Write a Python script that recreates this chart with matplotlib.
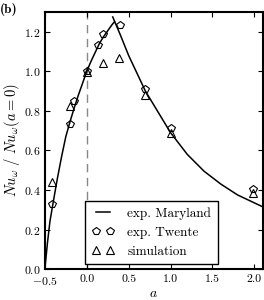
import matplotlib
matplotlib.use('Agg')
import matplotlib.pyplot as plt

# exp. Maryland fit (two branches)
md_left_a = [-0.5, -0.47, -0.44, -0.4, -0.35, -0.3, -0.25, -0.2, -0.15, -0.1,
             -0.05, 0.0, 0.05, 0.1, 0.15, 0.2, 0.25, 0.3, 0.33]
md_left_nu = [0.0, 0.13, 0.24, 0.34, 0.46, 0.57, 0.67, 0.745, 0.815, 0.88,
              0.94, 1.0, 1.05, 1.095, 1.14, 1.175, 1.205, 1.235, 1.25]
md_right_a = [0.31, 0.4, 0.5, 0.6, 0.7, 0.8, 0.9, 1.0, 1.2, 1.4, 1.6, 1.8, 2.0, 2.1]
md_right_nu = [1.275, 1.185, 1.08, 0.99, 0.9, 0.83, 0.76, 0.69, 0.58, 0.495,
               0.43, 0.375, 0.335, 0.315]

# exp. Twente
tw_a = [-0.41, -0.2, -0.15, 0.0, 0.13, 0.19, 0.4, 0.7, 1.0, 1.98]
tw_nu = [0.33, 0.735, 0.85, 1.0, 1.135, 1.19, 1.232, 0.91, 0.712, 0.405]

# simulation
sim_a = [-0.41, -0.2, 0.0, 0.19, 0.39, 0.7, 1.0, 1.98]
sim_nu = [0.442, 0.827, 0.999, 1.04, 1.067, 0.881, 0.69, 0.386]

plt.rcParams['font.family'] = 'serif'
plt.rcParams['font.serif'] = ['cmr10']
plt.rcParams['mathtext.fontset'] = 'cm'
plt.rcParams['axes.formatter.use_mathtext'] = True

fig = plt.figure(figsize=(2.64, 3.0), dpi=100)
ax = fig.add_axes([0.170, 0.103, 0.825, 0.857])

ax.axvline(0, color='#888888', lw=1.0, ls=(0, (6, 4)), zorder=1)
ax.plot(md_left_a, md_left_nu, c='black', lw=1.1, label='exp. Maryland')
ax.plot(md_right_a, md_right_nu, c='black', lw=1.1)
ax.plot(tw_a, tw_nu, ls='none', marker='p', ms=6, mfc='none', mec='black',
        mew=0.8, label='exp. Twente')
ax.plot(sim_a, sim_nu, ls='none', marker='^', ms=6, mfc='none', mec='black',
        mew=0.8, label='simulation')

ax.set_xlim(-0.5, 2.1)
ax.set_ylim(0, 1.3)
ax.set_xticks([-0.5, 0.0, 0.5, 1.0, 1.5, 2.0])
ax.set_yticks([0.0, 0.2, 0.4, 0.6, 0.8, 1.0, 1.2])
ax.set_xticklabels(['$-0.5$', '0.0', '0.5', '1.0', '1.5', '2.0'])
ax.tick_params(direction='in', top=True, right=True, length=3.5, width=0.8,
               labelsize=8.5)
ax.tick_params(axis='x', pad=4)
ax.tick_params(axis='y', pad=3)
for s in ax.spines.values():
    s.set_linewidth(1.5)

ax.set_xlabel('$a$', fontsize=10, labelpad=1)
ax.set_ylabel(r'$Nu_\omega\ /\ Nu_\omega(a=0)$', fontsize=10.5, labelpad=1)

leg = ax.legend(loc='lower left', bbox_to_anchor=(0.184, 0.019), borderaxespad=0,
                numpoints=2, fancybox=False, framealpha=1, edgecolor='black',
                fontsize=9.5, handlelength=1.7, handletextpad=1.0,
                borderpad=0.5, labelspacing=0.5)
leg.get_frame().set_linewidth(1.0)

fig.text(0.0, 0.99, '(b)', family='cmb10', fontsize=9.5, va='top', ha='left')

fig.savefig('out.png', dpi=100)
